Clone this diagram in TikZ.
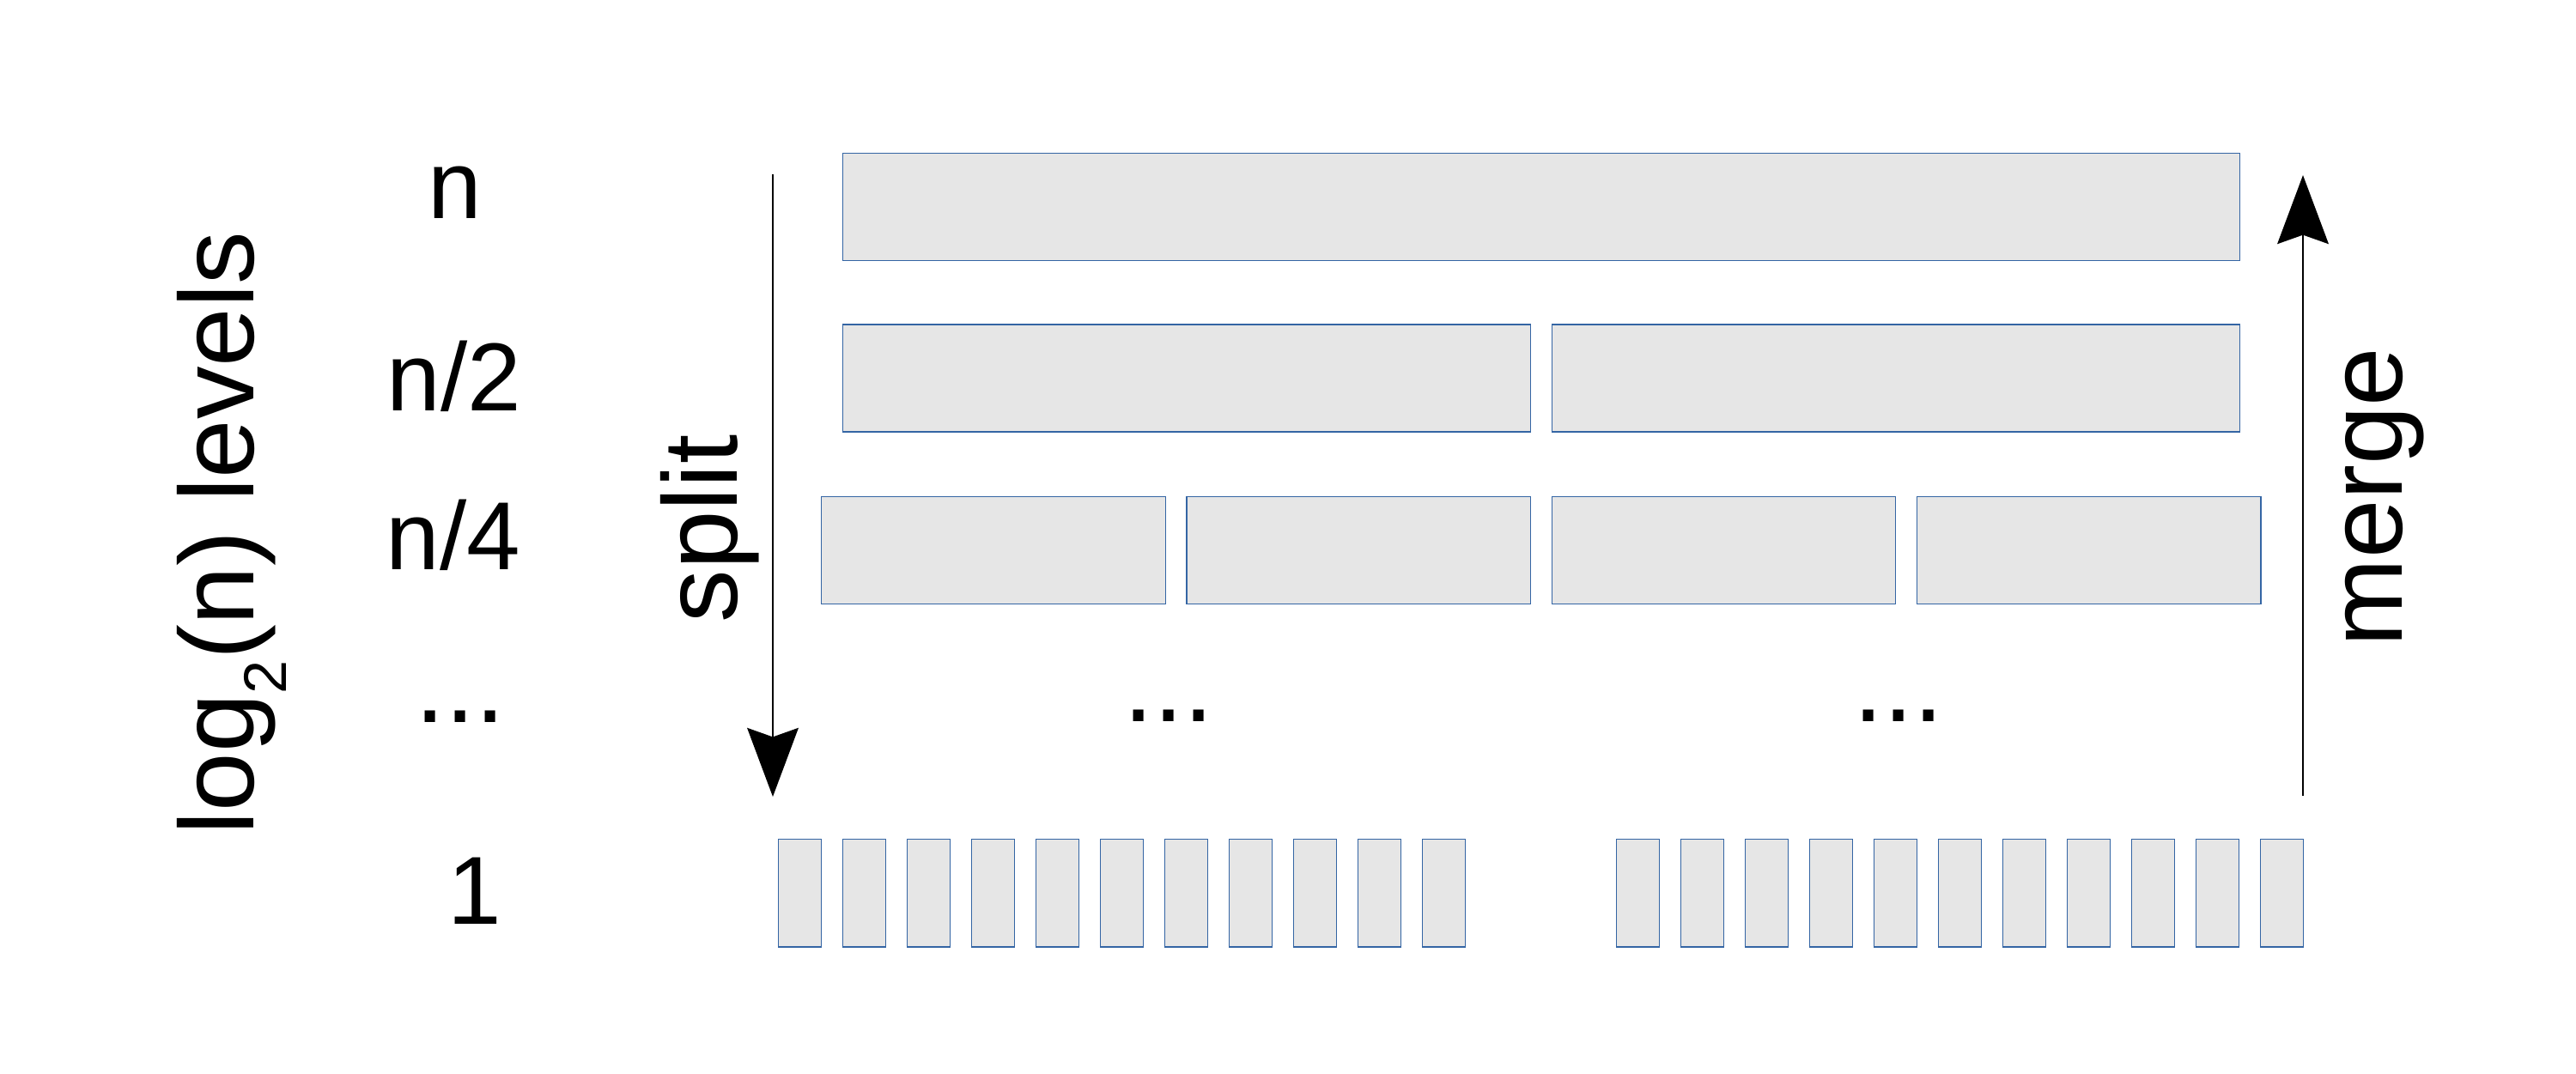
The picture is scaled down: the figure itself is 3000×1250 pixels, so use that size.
\documentclass[tikz,border=0pt]{standalone}
\usepackage{fontspec}
\setmainfont{Liberation Sans}
\usepackage{xcolor}
\usetikzlibrary{positioning,arrows.meta}

\definecolor{cellfill}{HTML}{E6E6E6}
\definecolor{cellline}{HTML}{3465A4}

\begin{document}
\begin{tikzpicture}[
    x=0.01cm, y=-0.01cm,
    >={Stealth[length=22.8pt, width=17pt, inset=3pt]},
    cell/.style={rectangle, draw=cellline, fill=cellfill, line width=0.4pt, anchor=north west, minimum height=1.25cm, inner sep=0pt},
    lvl/.style={font=\fontsize{32}{38}\selectfont, anchor=base, inner sep=0pt},
    dots/.style={font=\fontsize{36}{42}\selectfont, anchor=base, inner sep=0pt},
    side/.style={font=\fontsize{35}{42}\selectfont, rotate=90, anchor=base, inner sep=0pt}
]
\useasboundingbox (0,0) rectangle (3000,1250);

% level sizes on the left
\node[side] (levels) at (295,621) {log\raisebox{-11pt}{\fontsize{20}{20}\selectfont 2}(n) levels};
\node[lvl] (ln) at (530,254) {n};
\node[lvl] (ln2) at (529,478) {n/2};
\node[lvl] (ln4) at (528,663.5) {n/4};
\node[dots] (ldots) at (536,841) {...};
\node[lvl] (lone) at (553,1076.5) {1};

% rows of blocks
\node[cell, minimum width=16.26cm] (r1) at (981,177.5) {};
\node[cell, minimum width=8.005cm] (r2a) at (981,377.3) {};
\node[cell, minimum width=8.005cm] (r2b) at (1806.5,377.3) {};
\foreach \i/\x in {1/956, 2/1381.25, 3/1806.5, 4/2231.75}
    \node[cell, minimum width=4.0025cm] (r3\i) at (\x,577.7) {};
\node[dots] (mdotsa) at (1361,840) {...};
\node[dots] (mdotsb) at (2211,840) {...};
\foreach \k in {0,...,10} {
    \node[cell, minimum width=0.5cm] (ba\k) at (906+75*\k,977) {};
    \node[cell, minimum width=0.5cm] (bb\k) at (1882+75*\k,977) {};
}

% split and merge arrows
\coordinate (stop) at (900,203);
\coordinate (sbot) at (900,928);
\coordinate (mbot) at (2682,927);
\coordinate (mtop) at (2682,204);
\draw[->, line width=0.4pt] (stop) -- (sbot);
\draw[->, line width=0.4pt] (mbot) -- (mtop);
\node[side] (split) at (858,616) {split};
\node[side] (merge) at (2797,579) {merge};
\end{tikzpicture}
\end{document}
